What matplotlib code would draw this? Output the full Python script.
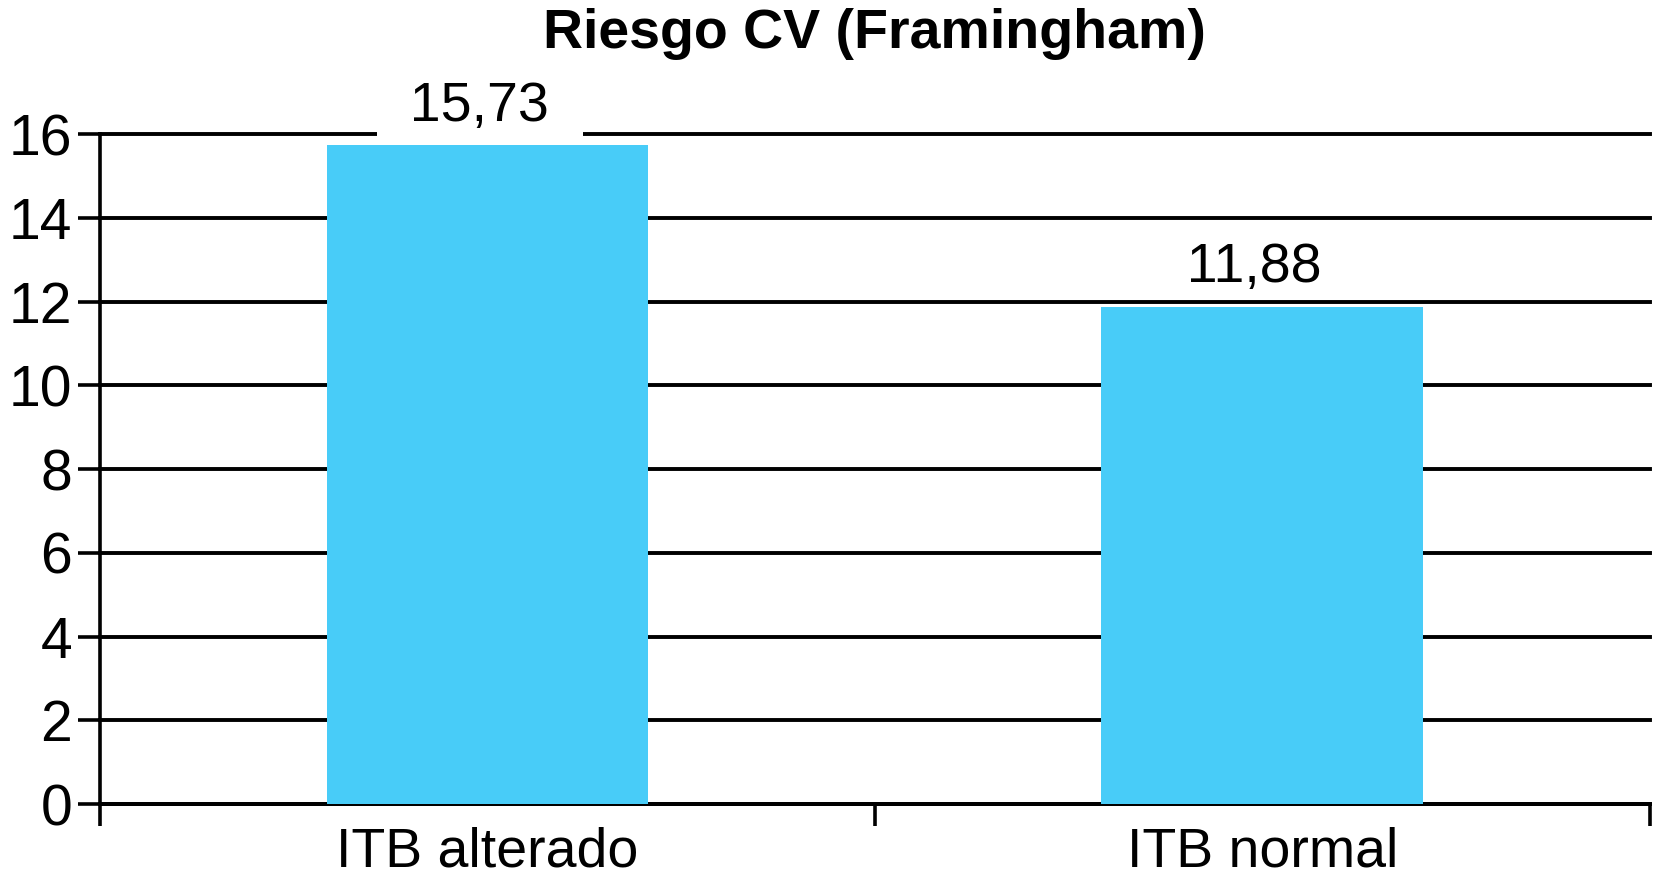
import matplotlib.pyplot as plt

plt.rcParams['font.family'] = ['Liberation Sans', 'DejaVu Sans']

categories = ['ITB alterado', 'ITB normal']
values = [15.73, 11.88]
yticks = [0, 2, 4, 6, 8, 10, 12, 14, 16]

fig = plt.figure(figsize=(16.53, 8.82), dpi=100)
ax = fig.add_axes([0.0605, 0.0884, 0.9375, 0.7596])

x = range(len(categories))
bars = ax.bar(x, values, width=0.415, color='#48CCF8', zorder=4)

ax.set_xlim(-0.5, 1.5)
ax.set_ylim(0, 16)
ax.set_yticks(yticks)
ax.set_yticklabels([str(t) for t in yticks], fontsize=41)
ax.set_xticks([-0.5, 0.5, 1.5])
ax.set_xticklabels([])
ax.set_xticks(list(x), minor=True)
ax.set_xticklabels(categories, minor=True, fontsize=40)
ax.tick_params(axis='x', which='minor', length=0, pad=16)
ax.tick_params(axis='x', which='major', length=16, width=2.6, direction='out')
ax.tick_params(axis='y', length=16, width=2.6, direction='out', pad=4)

ax.yaxis.grid(True, color='black', linewidth=2.8, zorder=0)
ax.set_axisbelow(True)
for gl in ax.get_ygridlines():
    gl.set_clip_on(False)
for s in ['top', 'right']:
    ax.spines[s].set_visible(False)
ax.spines['left'].set_linewidth(2.6)
ax.spines['bottom'].set_linewidth(2.8)

# data labels, comma decimal; white box breaks the gridline behind it
for b, v in zip(bars, values):
    lab = '  ' + f'{v:.2f}'.replace('.', ',') + '  '
    ax.text(b.get_x() + b.get_width() / 2 - 0.01, b.get_height() + 0.3, lab,
            ha='center', va='bottom', fontsize=40, zorder=3,
            bbox=dict(facecolor='white', edgecolor='none',
                      boxstyle='square,pad=0.05'))

ax.set_title('Riesgo CV (Framingham)', fontsize=40, fontweight='bold', pad=62)

fig.savefig('out.png', dpi=100)
